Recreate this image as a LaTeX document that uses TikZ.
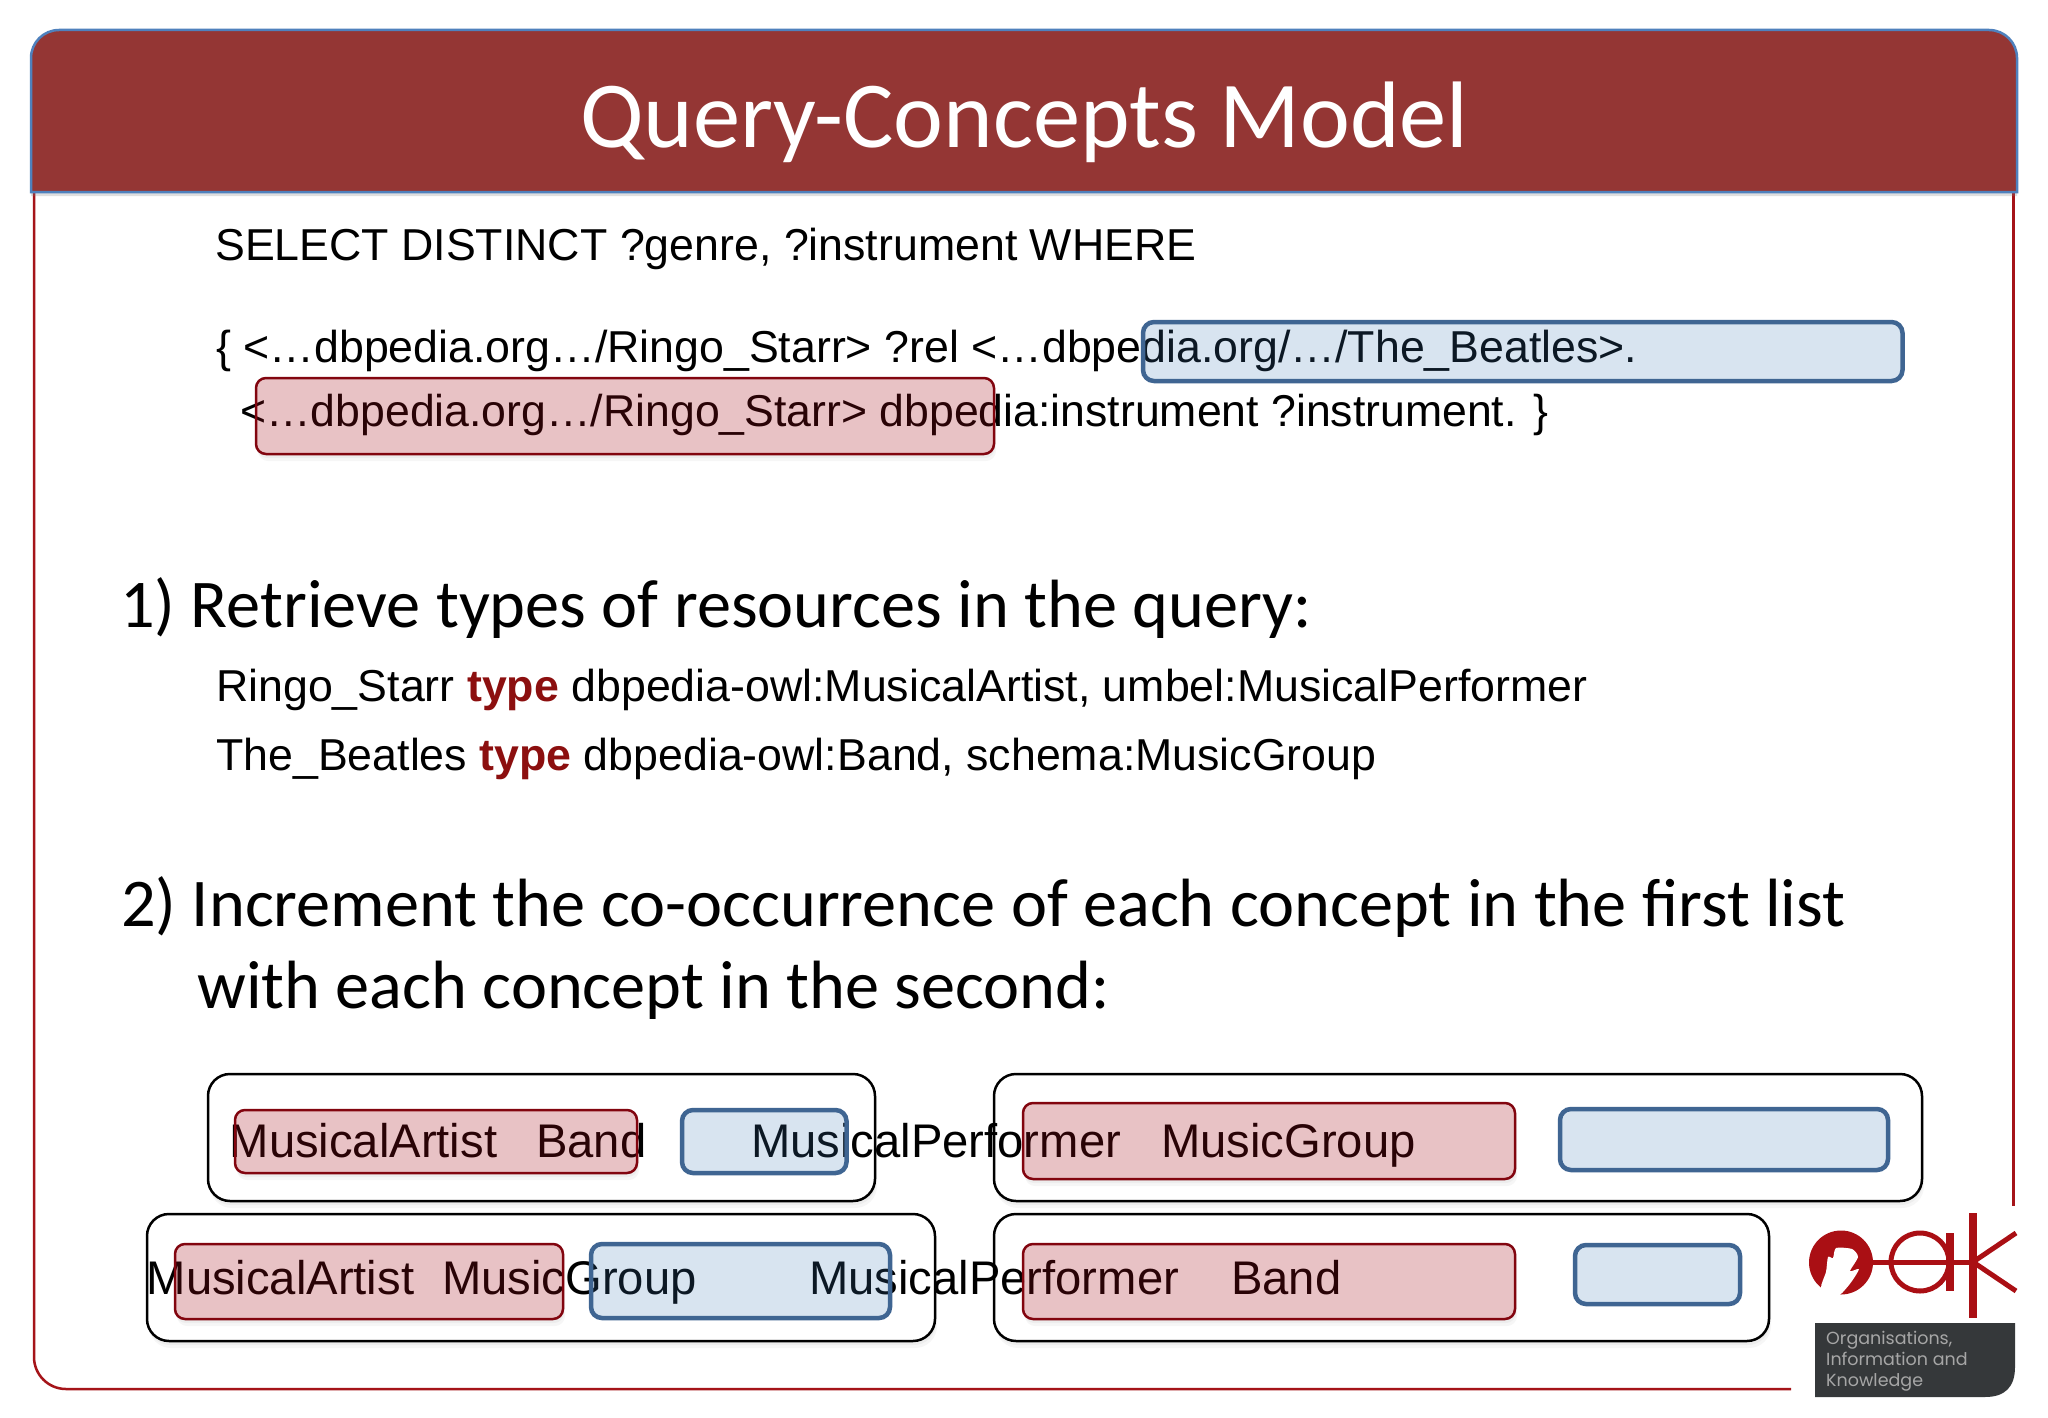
\documentclass[tikz,border=0pt]{standalone}
\usepackage{fontspec}
\setmainfont{Liberation Sans}
\newfontfamily\slidefont{Carlito}
\newfontfamily\logofont{Poppins}
\usetikzlibrary{shadows}
\definecolor{dark}{RGB}{148, 54, 52}
\definecolor{headedge}{RGB}{79, 129, 189}
\definecolor{frame}{RGB}{165, 20, 25}
\definecolor{redfill}{RGB}{164, 12, 24}
\definecolor{rededge}{RGB}{130, 5, 15}
\definecolor{bluefill}{RGB}{60, 120, 180}
\definecolor{blueedge}{RGB}{63, 101, 146}
\definecolor{typered}{RGB}{140, 15, 15}
\definecolor{logored}{RGB}{170, 15, 20}
\definecolor{logogray}{RGB}{53, 56, 58}
\tikzset{
  softshadow/.style={drop shadow={opacity=0.07, shadow xshift=1pt, shadow yshift=-4pt},
    drop shadow={opacity=0.07, shadow xshift=2pt, shadow yshift=-7pt}},
  codetext/.style={anchor=base west, inner sep=0pt, font=\fontsize{44.7}{45}\selectfont},
  boxtext/.style={anchor=base west, inner sep=0pt, font=\fontsize{47.2}{47}\selectfont},
  headtext/.style={anchor=base west, inner sep=0pt, font=\slidefont\fontsize{68.3}{68}\selectfont},
  logotext/.style={anchor=base west, inner sep=0pt, color=black!35, font=\logofont\fontsize{17.5}{18}\selectfont},
  pairbox/.style={draw=black, line width=2.5pt, fill=white, rounded corners=22pt, softshadow},
  redback/.style={fill=white, rounded corners=10pt, softshadow},
  redbox/.style={draw=rededge, line width=2.5pt, fill=redfill, fill opacity=0.25, draw opacity=1, rounded corners=10pt},
  bluebox/.style={draw=blueedge, line width=4.5pt, fill=bluefill, fill opacity=0.2, draw opacity=1, rounded corners=11pt}
}

\begin{document}
\begin{tikzpicture}[x=1pt, y=-1pt]
  \useasboundingbox (0, 0) rectangle (2048, 1418);
  \fill[color=white] (0, 0) rectangle (2048, 1418);
  % slide frame and header
  \draw[color=frame, line width=2.5pt, rounded corners=32pt] (34, 190) to (34, 1389) to (1791, 1389);
  \draw[color=frame, line width=2.5pt] (2013.5, 190) to (2013.5, 1206);
  \draw[draw=headedge, fill=dark, line width=2.5pt, drop shadow={opacity=0.25, shadow xshift=0pt, shadow yshift=-4pt}]
    (31, 192) [rounded corners=28pt] to (31, 30) to (2017, 30) [sharp corners] to (2017, 192) to cycle;
  \node[headtext, color=white, font=\slidefont\fontsize{94.5}{94}\selectfont] (title) at (580, 148) {Query-Concepts Model};

  % pairs, and the shadows of the red boxes
  \draw[pairbox] (208, 1074) rectangle (875, 1201);
  \draw[pairbox] (147, 1214) rectangle (935, 1341);
  \draw[pairbox] (994, 1074) rectangle (1922, 1201);
  \draw[pairbox] (994, 1214) rectangle (1769, 1341);
  \fill[redback] (256, 378) rectangle (994, 454);
  \fill[redback] (235, 1110) rectangle (637, 1173);
  \fill[redback] (175, 1244) rectangle (563, 1319);
  \fill[redback] (1023, 1103) rectangle (1515, 1179);
  \fill[redback] (1023, 1244) rectangle (1515, 1319);

  % query
  \node[codetext] (select) at (215, 260) {SELECT DISTINCT ?genre, ?instrument WHERE};
  \node[codetext] (triplea) at (216, 362) {\{ <…dbpedia.org…/Ringo\_Starr> ?rel <…dbpedia.org/…/The\_Beatles>.};
  \node[codetext, font=\fontsize{44.6}{45}\selectfont] (tripleb) at (240, 426) {<…dbpedia.org…/Ringo\_Starr> dbpedia:instrument ?instrument. \}};

  % first step
  \node[headtext] (stepone) at (120, 627) {1) Retrieve types of resources in the query:};
  \node[codetext] (ringo) at (216, 701) {Ringo\_Starr \textcolor{typered}{\textbf{type}} dbpedia-owl:MusicalArtist, umbel:MusicalPerformer};
  \node[codetext] (beatles) at (216, 770) {The\_Beatles \textcolor{typered}{\textbf{type}} dbpedia-owl:Band, schema:MusicGroup};

  % second step
  \node[headtext] (steptwo) at (121, 926) {2) Increment the co-occurrence of each concept in the first list};
  \node[headtext] (steptwob) at (197, 1008) {with each concept in the second:};

  \node[boxtext] (artista) at (229.5, 1157) {MusicalArtist};
  \node[boxtext] (banda) at (536, 1157) {Band};
  \node[boxtext] (performera) at (751, 1157) {MusicalPerformer};
  \node[boxtext] (groupa) at (1161, 1157) {MusicGroup};
  \node[boxtext] (artistb) at (146.5, 1294) {MusicalArtist};
  \node[boxtext] (groupb) at (442, 1294) {MusicGroup};
  \node[boxtext] (performerb) at (809, 1294) {MusicalPerformer};
  \node[boxtext] (bandb) at (1231, 1294) {Band};

  \draw[redbox] (256, 378) rectangle (994, 454);
  \draw[bluebox] (1143, 322) rectangle (1902.5, 381);
  \draw[redbox] (235, 1110) rectangle (637, 1173);
  \draw[redbox] (175, 1244) rectangle (563, 1319);
  \draw[redbox] (1023, 1103) rectangle (1515, 1179);
  \draw[redbox] (1023, 1244) rectangle (1515, 1319);
  \draw[bluebox] (682, 1110) rectangle (846.5, 1173);
  \draw[bluebox] (591, 1244) rectangle (890, 1318);
  \draw[bluebox] (1560, 1109) rectangle (1888, 1170);
  \draw[bluebox] (1575, 1245) rectangle (1740, 1304);

  % logo
  \fill[color=logored] (1841, 1262.5) circle (32pt);
  \fill[color=white] plot[smooth cycle, tension=0.4] coordinates {(1821, 1288) (1826, 1272) (1828, 1257) (1833, 1258) (1836, 1248) (1852, 1249) (1858, 1257) (1850, 1271) (1859, 1269) (1852, 1281) (1842, 1293) (1832, 1299)};
  \draw[color=logored, line width=5pt] (1920, 1262) circle (29pt);
  \draw[color=logored, line width=5pt] (1870, 1262) to (1973, 1262);
  \draw[color=logored, line width=8pt] (1950, 1233) to (1950, 1291);
  \draw[color=logored, line width=8pt] (1973, 1213) to (1973, 1318);
  \draw[color=logored, line width=5pt] (2016, 1233) to (1973, 1262) to (2016, 1291);
  \fill[color=logogray] (1815, 1323) to (2015, 1323) to (2015, 1367)
    .. controls (2015, 1387) and (2005, 1397) .. (1985, 1397) to (1815, 1397) to cycle;
  \node[logotext] (logoa) at (1826, 1344) {Organisations,};
  \node[logotext] (logob) at (1826, 1365) {Information and};
  \node[logotext] (logoc) at (1826, 1386) {Knowledge};
\end{tikzpicture}
\end{document}
